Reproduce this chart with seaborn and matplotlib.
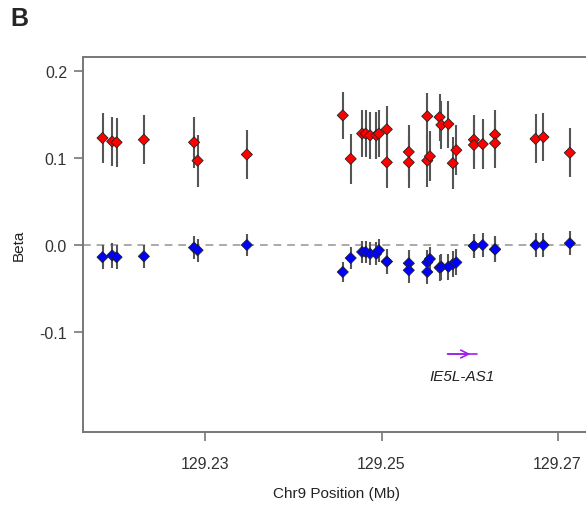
import numpy as np
import pandas as pd
import matplotlib
matplotlib.use('Agg')
import matplotlib.pyplot as plt
import seaborn as sns

# SNP positions (Mb) on chr9
position = [129.2183, 129.2194, 129.2199, 129.2230, 129.2287, 129.2291, 129.2347,
            129.2456, 129.2465, 129.2478, 129.2482, 129.2487, 129.2494, 129.2497,
            129.2506, 129.2506, 129.2531, 129.2531, 129.2552, 129.2552, 129.2555,
            129.2566, 129.2568, 129.2576, 129.2581, 129.2585, 129.2605, 129.2605,
            129.2615, 129.2629, 129.2629, 129.2675, 129.2684, 129.2714]

beta_red = [0.123, 0.119, 0.118, 0.121, 0.118, 0.097, 0.104,
            0.149, 0.099, 0.128, 0.128, 0.126, 0.126, 0.128,
            0.133, 0.095, 0.107, 0.095, 0.148, 0.097, 0.102,
            0.147, 0.138, 0.139, 0.094, 0.109, 0.121, 0.115,
            0.116, 0.127, 0.117, 0.122, 0.124, 0.106]
err_red = [0.029, 0.028, 0.028, 0.028, 0.029, 0.030, 0.028,
           0.027, 0.029, 0.027, 0.027, 0.027, 0.027, 0.027,
           0.027, 0.030, 0.031, 0.030, 0.027, 0.030, 0.029,
           0.027, 0.028, 0.027, 0.030, 0.029, 0.028, 0.028,
           0.029, 0.028, 0.028, 0.028, 0.028, 0.028]

beta_blue = [-0.014, -0.012, -0.014, -0.013, -0.003, -0.006, 0.000,
             -0.031, -0.015, -0.008, -0.008, -0.010, -0.010, -0.006,
             -0.019, -0.019, -0.021, -0.029, -0.031, -0.020, -0.016,
             -0.026, -0.025, -0.025, -0.022, -0.020, -0.001, -0.001,
             0.000, -0.005, -0.005, 0.000, 0.000, 0.002]
err_blue = [0.014, 0.014, 0.014, 0.013, 0.013, 0.013, 0.013,
            0.012, 0.013, 0.013, 0.013, 0.013, 0.013, 0.013,
            0.014, 0.014, 0.015, 0.015, 0.014, 0.014, 0.014,
            0.015, 0.015, 0.015, 0.015, 0.015, 0.014, 0.014,
            0.014, 0.015, 0.015, 0.014, 0.014, 0.014]

gene_name = 'IE5L-AS1'
gene_start, gene_end = 129.2575, 129.2609

df = pd.concat([
    pd.DataFrame({'pos': position, 'beta': beta_red, 'err': err_red, 'grp': 'red'}),
    pd.DataFrame({'pos': position, 'beta': beta_blue, 'err': err_blue, 'grp': 'blue'}),
])

sns.set_style('ticks')
plt.rcParams['font.family'] = ['Liberation Sans', 'DejaVu Sans']

fig = plt.figure(figsize=(5.86, 5.06), dpi=100)
ax = fig.add_axes([0.1416, 0.1443, 0.8669, 0.7411])

ax.axhline(0, color='#aaaaaa', lw=1.4, ls=(0, (4, 3)), zorder=1)
ax.errorbar(df['pos'], df['beta'], yerr=df['err'], fmt='none',
            ecolor='#555555', elinewidth=1.5, capsize=0, zorder=2)
sns.scatterplot(data=df, x='pos', y='beta', hue='grp',
                palette={'red': '#ff0000', 'blue': '#0000ff'},
                marker='D', s=32, edgecolor='#222222', linewidth=0.6,
                legend=False, ax=ax, zorder=3)

# gene track
ax.plot([gene_start, gene_end], [-0.1253, -0.1253], color='#a020f0', lw=1.2)
ax.annotate('', xy=(129.2601, -0.1253), xytext=(gene_start, -0.1253),
            arrowprops=dict(arrowstyle='->', color='#a020f0', lw=1.2,
                            shrinkA=0, shrinkB=0, mutation_scale=14))
ax.text((gene_start + gene_end) / 2, -0.1506, gene_name, style='italic',
        ha='center', va='center', fontsize=11, color='#222222')

ax.set_xlim(129.21608, 129.2738)
ax.set_ylim(-0.2149, 0.2161)
ax.set_xticks([129.23, 129.25, 129.27])
ax.set_xticklabels(['129.23', '129.25', '129.27'])
ax.set_yticks([-0.1, 0.0, 0.1, 0.2])
ax.set_yticklabels(['-0.1', '0.0', '0.1', '0.2'])
ax.set_xlabel('Chr9 Position (Mb)', fontsize=11, color='#222222', labelpad=11)
ax.set_ylabel('Beta', fontsize=11, color='#222222', labelpad=10)

for s in ax.spines.values():
    s.set_color('#777777')
    s.set_linewidth(1.4)
ax.tick_params(axis='both', direction='out', length=6.5, width=1.2,
               color='#777777', labelsize=11.5, labelcolor='#333333')
ax.tick_params(axis='x', pad=10.5)
ax.tick_params(axis='y', pad=5)

fig.text(0.017, 0.962, 'B', fontsize=18, fontweight='bold', va='center', ha='left')

fig.savefig('out.png', dpi=100)
